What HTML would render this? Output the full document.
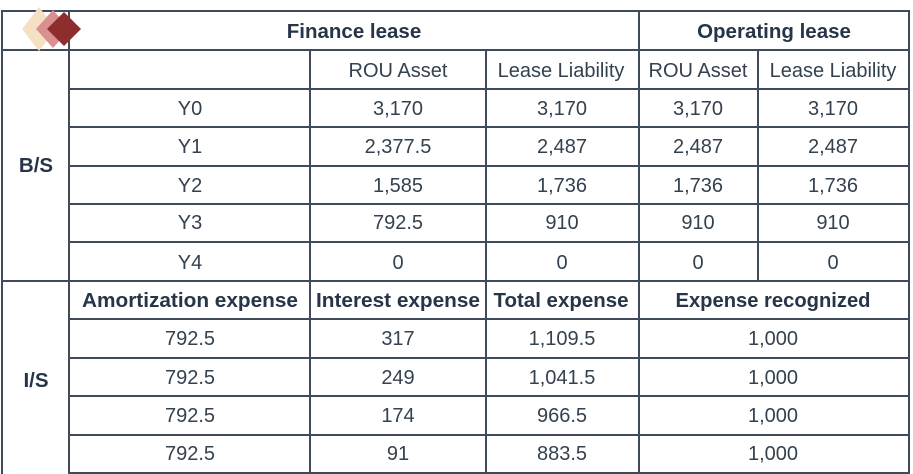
<!DOCTYPE html>
<html><head><meta charset="utf-8"><style>
html,body{margin:0;padding:0;background:#fff;width:913px;height:474px;overflow:hidden}
text{font-family:"Liberation Sans",sans-serif;font-size:20px;fill:#34414f}
.b{font-weight:bold;fill:#263547;font-size:20.5px}
</style></head><body>
<svg width="913" height="474" viewBox="0 0 913 474" xmlns="http://www.w3.org/2000/svg">
<g stroke="#3f4b5b" stroke-width="2" fill="none">
<rect x="2" y="11" width="907" height="470"/>
<line x1="2" y1="50" x2="909" y2="50"/>
<line x1="69" y1="89" x2="909" y2="89"/>
<line x1="69" y1="127" x2="909" y2="127"/>
<line x1="69" y1="166" x2="909" y2="166"/>
<line x1="69" y1="204" x2="909" y2="204"/>
<line x1="69" y1="242" x2="909" y2="242"/>
<line x1="2" y1="281" x2="909" y2="281"/>
<line x1="69" y1="319" x2="909" y2="319"/>
<line x1="69" y1="358" x2="909" y2="358"/>
<line x1="69" y1="396" x2="909" y2="396"/>
<line x1="69" y1="435" x2="909" y2="435"/>
<line x1="69" y1="473" x2="909" y2="473"/>
<line x1="69" y1="11" x2="69" y2="474"/>
<line x1="639" y1="11" x2="639" y2="474"/>
<line x1="310" y1="50" x2="310" y2="474"/>
<line x1="486" y1="50" x2="486" y2="474"/>
<line x1="758" y1="50" x2="758" y2="281"/>
</g>
<polygon points="39,7 56,29 39,51 22,29" fill="#f5e0c4"/>
<polygon points="53,10 70,29 53,48 36,29" fill="#db9090"/>
<polygon points="64,12 81,29 64,46 47,29" fill="#8e2d2d"/>
<g text-anchor="middle">
<text class="b" x="354" y="38">Finance lease</text>
<text class="b" x="774" y="38">Operating lease</text>
<text x="398" y="77">ROU Asset</text>
<text x="561" y="77">Lease Liability</text>
<text x="698" y="77">ROU Asset</text>
<text x="833" y="77">Lease Liability</text>
<text class="b" x="36" y="172">B/S</text>
<text class="b" x="36" y="387">I/S</text>
<text x="190" y="115">Y0</text><text x="398" y="115">3,170</text><text x="562" y="115">3,170</text><text x="698" y="115">3,170</text><text x="833" y="115">3,170</text>
<text x="190" y="153">Y1</text><text x="398" y="153">2,377.5</text><text x="562" y="153">2,487</text><text x="698" y="153">2,487</text><text x="833" y="153">2,487</text>
<text x="190" y="192">Y2</text><text x="398" y="192">1,585</text><text x="562" y="192">1,736</text><text x="698" y="192">1,736</text><text x="833" y="192">1,736</text>
<text x="190" y="229">Y3</text><text x="398" y="229">792.5</text><text x="562" y="229">910</text><text x="698" y="229">910</text><text x="833" y="229">910</text>
<text x="190" y="269">Y4</text><text x="398" y="269">0</text><text x="562" y="269">0</text><text x="698" y="269">0</text><text x="833" y="269">0</text>
<text class="b" x="190" y="307" textLength="216" lengthAdjust="spacingAndGlyphs">Amortization expense</text>
<text class="b" x="398" y="307" textLength="164" lengthAdjust="spacingAndGlyphs">Interest expense</text>
<text class="b" x="561" y="307" textLength="135" lengthAdjust="spacingAndGlyphs">Total expense</text>
<text class="b" x="773" y="307" textLength="195" lengthAdjust="spacingAndGlyphs">Expense recognized</text>
<text x="190" y="345">792.5</text><text x="398" y="345">317</text><text x="562" y="345">1,109.5</text><text x="773" y="345">1,000</text>
<text x="190" y="384">792.5</text><text x="398" y="384">249</text><text x="562" y="384">1,041.5</text><text x="773" y="384">1,000</text>
<text x="190" y="422">792.5</text><text x="398" y="422">174</text><text x="562" y="422">966.5</text><text x="773" y="422">1,000</text>
<text x="190" y="460">792.5</text><text x="398" y="460">91</text><text x="562" y="460">883.5</text><text x="773" y="460">1,000</text>
</g>
</svg>
</body></html>
